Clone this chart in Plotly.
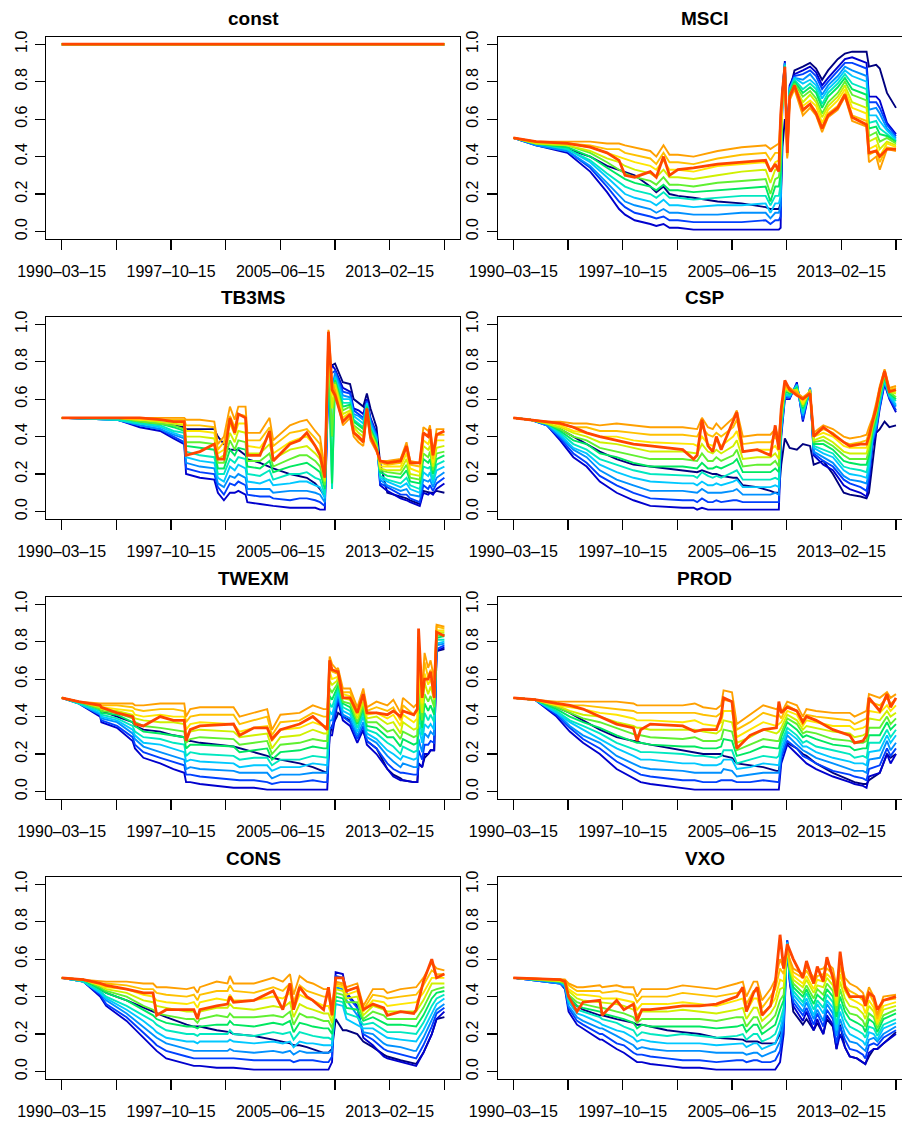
import plotly.graph_objects as go

# ---------------- data (values in hundredths) ----------------
# each row = one time knot: navy, 11 rainbow series (blue -> orange), orangered
X_TICKS = [0, 45.5, 91, 136.5, 182, 227.5, 273, 318.5]
X_LABELS = ["1990–03–15", "", "1997–10–15", "", "2005–06–15", "", "2013–02–15", ""]
Y_TICKS = [0, 0.2, 0.4, 0.6, 0.8, 1.0]
Y_LABELS = ["0.0", "0.2", "0.4", "0.6", "0.8", "1.0"]

CONST_M = [0, 318.5]
CONST_ROWS = ["100 100 100 100 100 100 100 100 100 100 100 100 100",
              "100 100 100 100 100 100 100 100 100 100 100 100 100"]

MSCI_M = [0, 19, 45, 64, 78, 88, 93, 101, 114, 119, 125, 130, 137, 150, 170, 190, 210, 214, 218, 221,
          222.5, 224, 226, 228, 230, 234, 241, 247, 252, 257, 262, 270, 276, 282, 294, 296, 302, 305, 311, 318.5]
MSCI_ROWS = [
    "50 50 50 50 50 50 50 50 50 50 50 50 50",
    "47 46 46 46 47 47 47 47 47 48 48 48 48",
    "44 42 43 43 44 44 45 46 46 47 47 48 47",
    "40 32 34 35 37 38 40 42 43 45 46 48 45",
    "35 21 24 26 29 31 34 37 39 42 44 47 42",
    "33 12 16 19 23 26 30 33 37 40 44 47 38",
    "32 9 13 16 20 24 28 31 35 39 42 46 30",
    "30 6 10 14 18 22 26 29 33 37 41 45 29",
    "24 4 8 12 16 20 24 27 31 35 39 43 32",
    "21 3 7 10 14 18 22 25 29 33 36 40 29",
    "24 4 8 12 17 21 25 29 33 38 42 46 40",
    "20 2 6 10 14 18 22 25 29 33 37 41 30",
    "19 2 6 10 14 18 22 25 29 33 37 41 33",
    "18 1 5 9 13 17 21 24 28 32 36 40 34",
    "16 1 5 9 14 18 22 26 30 35 39 43 36",
    "15 1 5 10 14 19 23 27 32 36 41 45 37",
    "13 1 6 10 15 19 24 28 33 37 42 46 38",
    "12 1 4 7 10 14 16 20 26 32 38 44 32",
    "12 1 6 10 15 19 24 28 33 37 42 46 36",
    "12 1 6 10 15 19 24 29 33 38 42 47 32",
    "15 2 8 14 19 25 31 37 43 48 54 60 62",
    "45 75 75 74 74 73 73 72 72 71 71 70 75",
    "60 91 90 90 89 89 88 87 87 86 86 85 88",
    "55 45 44 44 43 43 42 41 41 40 40 39 42",
    "75 78 77 76 76 75 74 73 72 72 71 70 72",
    "86 84 83 82 82 81 80 79 78 78 77 76 78",
    "88 86 84 81 79 76 74 72 69 67 64 62 65",
    "90 88 86 84 81 79 77 75 73 70 68 66 68",
    "87 85 83 80 78 76 74 71 69 67 64 62 63",
    "81 78 76 73 71 68 66 63 61 58 56 53 55",
    "86 82 80 78 76 74 72 69 67 65 63 61 62",
    "92 88 86 83 81 79 77 74 72 70 67 65 66",
    "95 92 90 88 86 84 82 80 78 76 74 72 73",
    "96 93 90 86 83 79 76 73 69 66 62 59 61",
    "96 90 87 83 80 76 73 70 66 63 59 56 57",
    "88 72 69 65 62 58 55 51 48 44 41 37 42",
    "89 72 69 66 62 59 56 53 50 46 43 40 43",
    "87 70 66 63 59 55 52 48 44 40 37 33 40",
    "74 58 57 55 54 52 51 50 48 47 45 44 44",
    "66 52 51 50 49 48 48 47 46 45 44 43 44",
]

TB3MS_M = [0, 46, 65, 82, 93, 102, 103.5, 115, 127, 130, 135, 140, 144, 147, 153, 154.5, 165, 173, 176, 190,
           198, 204, 211, 215, 219, 222, 225, 227.5, 234, 240, 243, 247, 251, 254, 257, 262, 265, 271, 282,
           287, 290, 298, 301, 305, 306.5, 309, 312, 318.5]
TB3MS_ROWS = [
    "50 50 50 50 50 50 50 50 50 50 50 50 50",
    "50 49 49 49 49 49 50 50 50 50 50 50 50",
    "48 45 46 46 47 47 48 48 49 49 50 50 50",
    "47 43 44 44 45 46 47 47 48 49 49 50 49",
    "46 39 40 41 42 43 45 46 47 48 49 50 48",
    "45 36 37 39 40 42 43 44 46 47 49 50 48",
    "44 20 23 26 29 32 35 37 40 43 46 49 30",
    "44 18 21 24 27 30 34 37 40 43 46 49 32",
    "44 17 20 23 26 29 33 36 39 42 45 48 36",
    "40 10 13 15 18 20 23 26 28 31 33 36 28",
    "36 6 9 13 16 20 23 26 30 33 37 40 28",
    "33 10 15 19 24 28 33 38 42 47 51 56 50",
    "33 10 14 18 22 26 30 33 37 41 45 49 42",
    "33 11 16 20 25 29 34 38 43 47 52 56 52",
    "30 9 14 18 23 28 33 37 42 47 51 56 50",
    "28 5 9 12 16 20 24 27 31 35 38 42 30",
    "26 4 8 12 15 19 23 27 31 34 38 42 30",
    "24 3 8 12 17 22 27 31 36 41 45 50 43",
    "23 3 7 10 14 17 21 24 28 31 35 38 27",
    "20 2 6 11 15 20 24 28 33 37 42 46 36",
    "19 2 7 11 16 20 25 30 34 39 43 48 38",
    "18 2 7 11 16 21 26 30 35 40 44 49 42",
    "15 2 6 10 14 18 23 27 31 35 39 43 35",
    "12 1 5 9 13 17 21 24 28 32 36 40 30",
    "8 1 3 5 7 9 12 14 16 18 20 22 18",
    "80 70 73 75 78 81 84 86 89 92 94 97 96",
    "78 78 74 66 40 12 15 40 55 62 66 70 65",
    "79 76 75 74 72 71 70 69 68 66 65 64 62",
    "69 66 64 62 60 58 56 54 52 50 48 46 48",
    "68 64 63 61 60 58 57 56 54 53 51 50 52",
    "60 55 54 52 51 49 48 46 45 43 42 40 42",
    "58 54 52 51 49 47 46 44 42 40 39 37 40",
    "56 52 50 49 47 45 44 42 40 38 37 35 37",
    "63 60 59 58 58 57 56 55 54 54 53 52 55",
    "55 50 49 48 46 45 44 43 42 40 39 38 40",
    "45 42 41 40 39 38 37 36 35 34 33 32 33",
    "26 14 15 17 18 19 21 22 23 24 26 27 27",
    "10 11 13 14 16 17 19 21 22 24 25 27 26",
    "8 7 9 11 13 15 18 20 22 24 26 28 27",
    "7 6 9 12 15 18 22 25 28 31 34 37 35",
    "6 5 7 9 12 14 16 18 20 23 25 27 26",
    "4 3 5 8 10 12 15 17 19 21 24 26 26",
    "11 10 14 17 21 24 28 31 35 38 42 45 42",
    "10 9 12 16 19 23 26 29 33 36 40 43 40",
    "10 10 14 17 21 24 28 32 35 39 42 46 44",
    "10 9 11 13 15 17 20 22 24 26 28 30 30",
    "11 12 15 18 22 25 28 31 34 38 41 44 41",
    "10 15 18 21 24 27 30 32 35 38 41 44 43",
]

CSP_M = [0, 14, 28, 39, 50, 61, 72, 86, 100, 114, 141, 150, 153, 157, 162, 166, 169, 173, 183, 186, 191, 203,
         214, 218, 221, 223, 226, 230, 236, 241, 247, 250, 258, 266, 275, 280, 289, 294, 296, 299, 302, 305,
         309, 313, 318.5]
CSP_ROWS = [
    "50 50 50 50 50 50 50 50 50 50 50 50 50",
    "49 49 49 49 49 49 49 49 49 49 49 49 49",
    "47 46 46 46 47 47 47 47 47 48 48 48 48",
    "44 38 39 40 41 42 43 44 45 46 47 48 47",
    "40 29 31 33 34 36 38 40 42 43 45 47 45",
    "36 24 26 29 31 33 36 38 40 42 45 47 42",
    "32 16 19 22 25 28 31 34 37 40 43 46 40",
    "28 10 14 17 21 25 29 32 36 40 43 47 38",
    "25 6 10 14 18 22 26 30 34 38 42 46 36",
    "24 3 7 11 16 20 24 28 32 37 41 45 35",
    "22 2 6 11 15 19 24 28 32 36 41 45 33",
    "21 2 6 10 15 19 23 27 31 36 40 44 28",
    "21 1 5 10 14 18 23 27 31 35 40 44 30",
    "22 2 7 12 16 21 26 31 36 40 45 50 49",
    "21 1 5 10 14 19 23 27 32 36 41 45 35",
    "20 1 5 10 14 18 23 27 31 35 40 44 32",
    "20 1 6 10 15 19 24 29 33 38 42 47 40",
    "19 1 5 10 14 18 23 27 31 35 40 44 33",
    "18 1 6 11 16 21 26 30 35 40 45 50 48",
    "18 1 6 12 17 22 28 33 38 43 49 54 53",
    "14 1 5 9 13 17 21 24 28 32 36 40 32",
    "13 1 5 9 13 17 21 25 29 33 37 41 33",
    "11 1 5 9 13 17 21 25 29 33 37 41 30",
    "10 1 5 10 14 18 23 27 31 35 40 44 46",
    "10 1 5 9 13 17 21 24 28 32 36 40 33",
    "25 40 42 43 45 46 48 49 51 52 54 55 55",
    "39 60 61 62 62 63 64 65 66 66 67 68 70",
    "34 60 61 61 62 62 63 64 64 65 65 66 65",
    "33 69 68 68 67 67 66 65 65 64 64 63 62",
    "36 48 49 51 52 53 55 56 57 58 60 61 60",
    "35 66 66 66 65 65 65 65 65 64 64 64 63",
    "25 30 31 32 34 35 36 37 38 40 41 42 40",
    "27 25 27 29 31 33 36 38 40 42 44 46 45",
    "20 22 24 26 29 31 33 35 37 40 42 44 41",
    "10 14 17 19 22 24 27 30 32 35 37 40 37",
    "9 12 15 17 20 23 26 28 31 34 36 39 35",
    "8 10 13 16 19 22 25 28 31 34 37 40 36",
    "7 8 11 15 18 21 25 28 31 34 38 41 36",
    "10 15 18 21 24 27 30 33 36 39 42 45 40",
    "25 35 37 38 40 41 43 44 46 47 49 50 48",
    "42 42 44 45 47 48 50 52 53 55 56 58 55",
    "44 55 56 57 59 60 61 62 63 65 66 67 65",
    "48 68 69 70 70 71 72 73 74 74 75 76 75",
    "45 60 61 61 62 62 63 64 64 65 65 66 64",
    "46 53 54 56 57 59 60 61 63 64 66 67 65",
]

TWEXM_M = [0, 14, 32, 33, 46, 59, 61, 68, 82, 93, 102, 103.5, 107, 115, 143, 148, 160, 171, 175, 182, 198, 209,
           218, 221, 223, 225, 229, 230, 234, 240, 246, 251, 254, 262, 271, 276, 282, 284, 293, 296, 297, 300,
           302, 305, 307, 310, 312, 318.5]
TWEXM_ROWS = [
    "50 50 50 50 50 50 50 50 50 50 50 50 50",
    "48 47 47 47 47 47 48 48 48 48 48 48 48",
    "44 40 41 41 42 43 44 44 45 46 46 47 46",
    "43 37 38 39 40 41 42 43 44 45 46 47 45",
    "40 34 35 37 38 39 41 42 43 44 46 47 42",
    "37 27 29 31 33 35 37 39 41 43 45 47 40",
    "35 23 25 28 30 32 35 37 39 41 44 46 36",
    "33 18 21 24 26 29 32 35 38 40 43 46 35",
    "32 15 18 21 25 28 31 34 37 41 44 47 40",
    "30 12 16 19 23 26 30 33 37 40 44 47 38",
    "29 10 14 17 21 25 29 32 36 40 43 47 38",
    "27 5 9 12 16 19 23 26 30 33 37 40 27",
    "27 5 9 13 17 21 25 28 32 36 40 44 33",
    "26 4 8 12 16 20 25 29 33 37 41 45 35",
    "24 2 6 11 15 19 24 28 32 36 41 45 36",
    "23 2 6 10 13 17 21 25 29 32 36 40 30",
    "21 2 6 10 14 18 22 26 30 34 38 42 34",
    "19 1 5 10 14 18 23 27 31 35 40 44 34",
    "18 1 4 7 11 14 17 20 23 27 30 33 28",
    "17 1 5 9 13 17 21 25 29 33 37 41 33",
    "15 1 5 9 13 17 22 26 30 34 38 42 36",
    "13 1 6 10 15 19 24 28 33 37 42 46 40",
    "11 1 5 10 14 18 23 27 31 35 40 44 35",
    "10 1 5 10 14 18 23 27 31 35 40 44 33",
    "30 30 34 38 43 47 51 55 59 64 68 72 70",
    "35 30 34 38 41 45 49 53 57 60 64 68 65",
    "40 45 47 49 51 53 55 57 59 61 63 65 64",
    "42 48 50 52 53 55 57 59 61 62 64 66 64",
    "40 38 40 41 43 45 47 48 50 52 53 55 50",
    "38 35 37 39 41 43 45 47 49 51 53 55 50",
    "30 26 28 30 32 34 36 37 39 41 43 45 42",
    "32 33 35 37 40 42 44 46 48 51 53 55 52",
    "27 25 27 29 31 33 35 37 39 41 43 45 42",
    "23 20 23 26 28 31 34 37 40 42 45 48 42",
    "12 12 15 19 22 26 29 32 36 39 43 46 41",
    "9 8 12 16 20 24 29 33 37 41 45 49 43",
    "7 6 10 13 17 20 24 28 31 35 38 42 40",
    "6 6 10 15 19 24 28 32 37 41 46 50 43",
    "5 5 9 13 17 21 25 29 33 37 41 45 41",
    "5 5 9 13 18 22 26 30 34 39 43 47 44",
    "15 15 22 28 35 41 48 54 61 67 74 80 87",
    "13 13 17 21 26 30 34 38 42 47 51 55 50",
    "18 20 25 31 36 42 47 52 58 63 69 74 60",
    "20 20 25 29 34 38 43 48 52 57 61 66 60",
    "22 22 27 32 36 41 46 51 56 60 65 70 64",
    "22 22 26 30 33 37 41 45 49 52 56 60 50",
    "75 75 76 78 79 81 82 83 85 86 88 89 85",
    "76 77 78 79 80 81 83 84 85 86 87 88 83",
]

PROD_M = [0, 18, 36, 47, 58, 72, 86, 100, 103, 106, 114, 141, 151, 158, 169, 173, 175, 182, 186, 197, 208, 219,
          221, 223, 228, 236, 241, 244, 252, 266, 280, 284, 291, 294, 296, 305, 311, 314, 318.5]
PROD_ROWS = [
    "50 50 50 50 50 50 50 50 50 50 50 50 50",
    "49 49 49 49 49 49 49 49 49 49 49 49 49",
    "45 40 41 42 42 43 44 45 46 46 47 48 47",
    "42 32 34 35 37 38 40 42 43 45 46 48 46",
    "38 26 28 30 33 35 37 39 41 44 46 48 44",
    "33 20 23 26 28 31 34 37 40 42 45 48 40",
    "29 12 16 19 23 26 30 34 37 41 44 48 36",
    "27 7 11 15 19 23 27 31 35 39 43 47 34",
    "27 6 10 14 18 22 26 30 34 38 42 46 27",
    "26 5 9 13 17 21 26 30 34 38 42 46 33",
    "25 4 8 12 17 21 25 29 33 38 42 46 36",
    "22 2 6 11 15 20 24 28 33 37 42 46 35",
    "21 1 6 10 15 19 24 29 33 38 42 47 32",
    "20 1 5 10 14 19 23 27 32 36 41 45 33",
    "20 1 5 10 14 18 23 27 31 35 40 44 33",
    "20 1 6 10 15 19 24 28 33 37 42 46 40",
    "19 1 6 12 17 22 28 33 38 43 49 54 50",
    "18 1 6 11 17 22 27 32 37 43 48 53 48",
    "15 1 5 8 12 15 19 22 26 29 33 36 23",
    "14 1 5 9 13 17 21 25 29 33 37 41 30",
    "13 1 6 10 15 19 24 28 33 37 42 46 33",
    "11 1 5 10 14 18 23 27 31 35 40 44 34",
    "11 1 5 10 14 19 23 27 32 36 41 45 48",
    "20 15 18 20 23 26 29 31 34 37 39 42 42",
    "26 25 27 30 32 34 37 39 41 43 46 48 45",
    "23 20 23 25 28 30 33 36 38 41 43 46 43",
    "20 17 19 22 24 26 29 31 33 35 38 40 37",
    "19 15 18 21 24 27 30 32 35 38 41 44 40",
    "15 12 15 18 21 24 28 31 34 37 40 43 38",
    "10 8 11 15 18 22 25 28 32 35 39 42 33",
    "6 5 9 12 16 20 24 27 31 35 38 42 30",
    "5 4 8 11 15 18 22 26 29 33 36 40 26",
    "4 3 7 11 15 19 23 26 30 34 38 42 27",
    "4 2 6 10 14 18 23 27 31 35 39 43 30",
    "6 8 12 17 21 26 30 34 39 43 48 52 50",
    "10 10 14 18 22 26 30 34 38 42 46 50 43",
    "20 20 23 27 30 33 37 40 43 46 50 53 52",
    "18 15 19 22 26 29 33 36 40 43 47 50 45",
    "20 20 23 26 30 33 36 39 42 46 49 52 50",
]

CONS_M = [0, 18, 32, 37, 54, 68, 76, 79, 87, 104, 110, 113, 115, 129, 138, 140, 143, 160, 176, 184, 190, 193,
          198, 204, 209, 218, 222, 225, 228, 234, 237, 246, 251, 259, 268, 271, 282, 293, 295, 301, 308, 312, 318.5]
CONS_ROWS = [
    "50 50 50 50 50 50 50 50 50 50 50 50 50",
    "49 48 48 48 48 48 49 49 49 49 49 49 49",
    "44 40 41 42 42 43 44 45 46 46 47 48 47",
    "42 35 36 38 39 40 42 43 44 45 47 48 46",
    "38 27 29 31 33 35 38 40 42 44 46 48 44",
    "34 18 21 24 27 30 33 35 38 41 44 47 42",
    "32 13 16 20 23 27 30 33 37 40 44 47 42",
    "31 11 14 18 21 25 28 31 35 38 42 45 30",
    "29 7 11 15 18 22 26 30 34 37 41 45 33",
    "25 4 8 12 16 20 24 28 32 36 40 44 33",
    "24 3 7 11 16 20 24 28 32 37 41 45 33",
    "24 3 7 11 15 19 23 26 30 34 38 42 28",
    "24 3 7 11 16 20 24 28 32 37 41 45 33",
    "22 2 7 11 16 20 25 30 34 39 43 48 35",
    "21 2 7 11 16 20 25 29 34 38 43 47 36",
    "21 2 7 12 17 22 27 31 36 41 46 51 40",
    "20 2 7 11 16 20 25 29 34 38 43 47 37",
    "19 1 6 10 15 19 24 29 33 38 42 47 38",
    "17 1 6 11 16 21 26 30 35 40 45 50 43",
    "16 1 6 10 15 20 25 29 34 39 43 48 33",
    "15 1 6 11 16 21 27 32 37 42 47 52 47",
    "14 1 5 9 13 17 21 25 29 33 37 41 33",
    "14 1 6 11 16 21 26 31 36 41 46 51 45",
    "13 1 6 10 15 20 25 29 34 39 43 48 40",
    "12 1 6 10 15 19 24 29 33 38 42 47 38",
    "10 1 5 10 14 18 23 27 31 35 40 44 33",
    "10 1 5 10 14 18 23 27 31 35 40 44 45",
    "12 5 8 11 14 17 20 23 26 29 32 35 30",
    "28 53 51 45 36 38 40 42 44 46 47 48 50",
    "22 52 50 44 35 37 39 41 43 45 46 47 50",
    "22 42 41 38 28 31 34 37 39 41 43 45 43",
    "20 35 34 30 25 29 33 37 40 43 45 47 45",
    "16 18 20 21 23 25 27 28 30 32 33 35 33",
    "13 14 17 20 23 26 29 32 35 38 41 44 36",
    "9 8 12 15 19 22 26 30 33 37 40 44 34",
    "8 7 11 14 18 21 25 28 32 35 39 42 30",
    "6 5 9 13 17 21 25 28 32 36 40 44 32",
    "4 3 7 11 16 20 24 28 32 37 41 45 31",
    "4 3 7 11 16 20 24 28 32 37 41 45 33",
    "10 10 14 18 22 26 30 34 38 42 46 50 48",
    "20 20 24 28 31 35 39 43 47 50 54 58 60",
    "28 28 31 33 36 39 42 44 47 50 52 55 50",
    "29 32 34 36 39 41 43 45 47 50 52 54 52",
]

VXO_M = [0, 39, 43, 46, 53, 58, 72, 74, 86, 92, 100, 103, 107, 114, 128, 141, 155, 169, 186, 191, 194, 200, 203,
         207, 214, 218, 222, 225, 228, 230, 233, 241, 244, 250, 253, 258, 261, 266, 269, 272, 276, 280, 286, 291,
         293, 296, 300, 303, 308, 318.5]
VXO_ROWS = [
    "50 50 50 50 50 50 50 50 50 50 50 50 50",
    "48 47 47 47 48 48 48 48 48 49 49 49 49",
    "46 44 45 45 46 46 47 47 48 48 49 49 48",
    "40 32 34 35 37 38 40 41 43 44 46 47 40",
    "35 25 27 29 31 33 35 37 39 41 43 45 32",
    "33 23 25 27 30 32 34 36 38 41 43 45 37",
    "30 17 20 23 26 29 32 34 37 40 43 46 38",
    "30 17 20 23 25 28 31 34 37 39 42 45 30",
    "28 12 15 19 22 26 29 32 36 39 43 46 38",
    "27 10 14 17 21 24 28 31 35 38 42 45 33",
    "26 6 10 14 18 22 26 29 33 37 41 45 36",
    "25 5 9 12 16 19 23 26 30 33 37 40 27",
    "25 5 9 13 17 21 25 28 32 36 40 44 33",
    "24 4 8 12 16 20 24 28 32 36 40 44 33",
    "22 3 7 11 15 19 24 28 32 36 40 44 34",
    "21 2 6 11 15 20 24 28 33 37 42 46 35",
    "20 2 6 11 15 19 24 28 32 36 41 45 35",
    "18 1 5 10 14 18 23 27 31 35 40 44 36",
    "17 1 6 10 15 19 24 29 33 38 42 47 40",
    "17 1 6 10 15 20 25 29 34 39 43 48 45",
    "16 1 5 9 13 17 21 24 28 32 36 40 32",
    "16 1 6 10 15 20 25 29 34 39 43 48 42",
    "16 1 6 10 15 20 25 29 34 39 43 48 45",
    "15 1 5 8 12 16 20 23 27 31 34 38 30",
    "15 1 5 10 14 18 23 27 31 35 40 44 35",
    "15 1 6 11 15 20 25 30 35 39 44 49 47",
    "20 5 11 16 22 27 33 38 44 49 55 60 73",
    "30 20 24 27 31 34 38 41 45 48 52 55 55",
    "69 70 70 69 69 68 68 67 67 66 66 65 68",
    "50 48 49 50 52 53 54 55 56 58 59 60 65",
    "32 35 37 39 41 43 45 47 49 51 53 55 60",
    "25 27 30 32 35 37 40 42 45 47 50 52 50",
    "28 32 34 37 39 42 44 46 49 51 54 56 59",
    "22 22 25 28 30 33 36 39 42 44 47 50 47",
    "26 28 31 33 36 38 41 44 46 49 51 54 56",
    "20 20 24 27 31 34 38 41 45 48 52 55 48",
    "28 30 33 36 38 41 44 47 50 52 55 58 61",
    "24 25 28 31 34 37 40 43 46 49 52 55 50",
    "12 12 15 19 22 25 29 32 35 38 42 45 40",
    "25 20 24 28 32 36 40 44 48 52 56 60 64",
    "13 13 17 20 24 28 32 35 39 43 46 50 45",
    "8 8 12 16 20 24 28 31 35 39 43 47 40",
    "7 7 11 15 18 22 26 30 34 37 41 45 40",
    "5 5 9 12 16 20 24 27 31 35 38 42 40",
    "4 4 7 11 14 18 21 24 28 31 35 38 35",
    "8 10 14 17 21 24 28 31 35 38 42 45 42",
    "12 12 15 18 20 23 26 29 32 34 37 40 40",
    "12 12 14 16 17 19 21 23 25 26 28 30 33",
    "15 15 18 20 23 25 28 30 33 35 38 40 38",
    "21 20 22 24 26 28 31 33 35 37 39 41 40",
]

PANELS = [
    ("const", CONST_M, CONST_ROWS),
    ("MSCI", MSCI_M, MSCI_ROWS),
    ("TB3MS", TB3MS_M, TB3MS_ROWS),
    ("CSP", CSP_M, CSP_ROWS),
    ("TWEXM", TWEXM_M, TWEXM_ROWS),
    ("PROD", PROD_M, PROD_ROWS),
    ("CONS", CONS_M, CONS_ROWS),
    ("VXO", VXO_M, VXO_ROWS),
]

# ---------------- styling ----------------
COLORS = ["#00007F",
          "#0000CD", "#0040FF", "#0090FF", "#00C8FF", "#00E8C0", "#00E860",
          "#60F030", "#D0F000", "#FFE600", "#FFC000", "#FFA000",
          "#FF4500"]
WIDTHS = [1.9] + [1.9] * 11 + [2.8]
FONT = "Liberation Sans, Arial, Helvetica, sans-serif"
W, H = 902, 1121

# pixel geometry of plotting boxes
LEFT_BOX = (46.4, 459.7)
RIGHT_BOX = (498.0, 911.3)
ROW_TOP = [36.7 + 280 * k for k in range(4)]
ROW_BOT = [239.0 + 280 * k for k in range(4)]
XR = [-12.74, 331.24]

# validate
bad = []
for name, months, rows in PANELS:
    if len(months) != len(rows):
        bad.append(f"{name}: {len(months)} months vs {len(rows)} rows")
    for i, r in enumerate(rows):
        if len(r.split()) != 13:
            bad.append(f"{name} row {i}: {len(r.split())} values")
if bad:
    raise SystemExit("\n".join(bad))

fig = go.Figure()
layout = dict(width=W, height=H, autosize=False, margin=dict(l=0, r=0, t=0, b=0, pad=0),
              template="none", paper_bgcolor="white", plot_bgcolor="white", showlegend=False,
              annotations=[])

for i, (name, months, rows) in enumerate(PANELS):
    row, col = divmod(i, 2)
    sfx = "" if i == 0 else str(i + 1)
    vals = [[int(v) / 100 for v in r.split()] for r in rows]
    for j in range(13):
        fig.add_trace(go.Scatter(
            x=months, y=[v[j] for v in vals], mode="lines",
            line=dict(color=COLORS[j], width=WIDTHS[j]),
            xaxis="x" + sfx, yaxis="y" + sfx, hoverinfo="skip", showlegend=False))

    bx0, bx1 = LEFT_BOX if col == 0 else RIGHT_BOX
    if col == 0:
        xdom = [bx0 / W, bx1 / W]
        xr = XR
    else:
        xdom = [bx0 / W, 1.0]
        xr = [XR[0], XR[0] + (XR[1] - XR[0]) * (W - bx0) / (bx1 - bx0)]
    ydom = [1 - ROW_BOT[row] / H, 1 - ROW_TOP[row] / H]

    common = dict(showgrid=False, zeroline=False, showline=True, linecolor="black", linewidth=1.2,
                  ticks="outside", ticklen=10, tickwidth=1.2, tickcolor="black", automargin=False,
                  tickfont=dict(family=FONT, size=16, color="black"))
    layout["xaxis" + sfx] = dict(common, domain=xdom, range=xr, anchor="y" + sfx, mirror=True,
                                 tickmode="array", tickvals=X_TICKS, ticktext=X_LABELS,
                                 ticklabelstandoff=8)
    layout["yaxis" + sfx] = dict(common, domain=ydom, range=[-0.04, 1.04], anchor="x" + sfx,
                                 mirror=(col == 0), tickmode="array", tickvals=Y_TICKS, ticktext=Y_LABELS,
                                 tickangle=-90, ticklabelstandoff=2)
    layout["annotations"].append(dict(
        text="<b>" + name + "</b>", x=((bx0 + bx1) / 2) / W, y=1 - (18 + 280 * row) / H,
        xref="paper", yref="paper", xanchor="center", yanchor="middle", showarrow=False,
        font=dict(family=FONT, size=19, color="black")))

fig.update_layout(**layout)
fig.write_html("out.html",
               config={"displayModeBar": False, "staticPlot": True},
               post_script="document.body.style.margin='0';document.body.style.padding='0';"
                           "document.documentElement.style.overflow='hidden';")
